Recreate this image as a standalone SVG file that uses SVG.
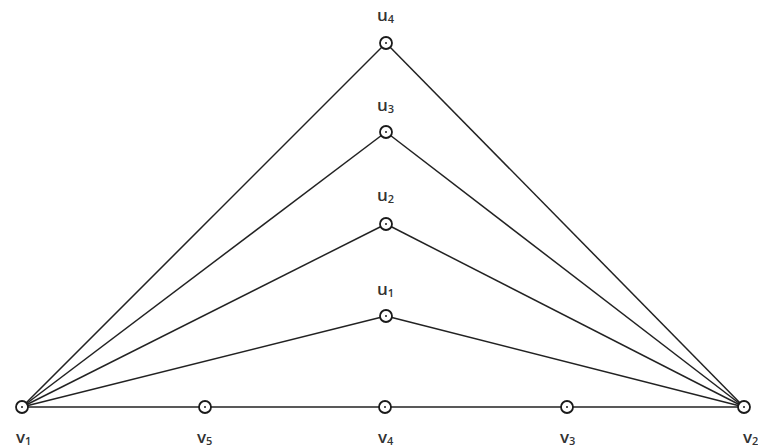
<svg xmlns="http://www.w3.org/2000/svg" width="758" height="448" viewBox="0 0 758 448">
<style>
.e{stroke:#222;stroke-width:1.5;fill:none}
.n{fill:#fff;stroke:#1a1a1a;stroke-width:1.8}
.d{fill:#1a1a1a}
.t{font-family:"Open Sans","Liberation Sans",sans-serif;font-size:17px;font-weight:600;fill:#333}
.s{font-size:11px}
</style>
<rect width="758" height="448" fill="#fff"/>
<g id="edges">
<line class="e" x1="22" y1="407" x2="744" y2="407"/>
<line class="e" x1="22" y1="407" x2="386" y2="43"/>
<line class="e" x1="22" y1="407" x2="386" y2="132"/>
<line class="e" x1="22" y1="407" x2="386" y2="224"/>
<line class="e" x1="22" y1="407" x2="386" y2="316"/>
<line class="e" x1="386" y1="43" x2="744" y2="407"/>
<line class="e" x1="386" y1="132" x2="744" y2="407"/>
<line class="e" x1="386" y1="224" x2="744" y2="407"/>
<line class="e" x1="386" y1="316" x2="744" y2="407"/>
</g>
<g id="u4"><circle class="n" cx="386" cy="43" r="6"/><circle class="d" cx="386" cy="43" r="1"/><text class="t" x="377" y="21">u<tspan class="s" dy="2">4</tspan></text></g>
<g id="u3"><circle class="n" cx="386" cy="132" r="6"/><circle class="d" cx="386" cy="132" r="1"/><text class="t" x="377" y="111">u<tspan class="s" dy="2">3</tspan></text></g>
<g id="u2"><circle class="n" cx="386" cy="224" r="6"/><circle class="d" cx="386" cy="224" r="1"/><text class="t" x="377" y="201">u<tspan class="s" dy="2">2</tspan></text></g>
<g id="u1"><circle class="n" cx="386" cy="316" r="6"/><circle class="d" cx="386" cy="316" r="1"/><text class="t" x="377" y="295">u<tspan class="s" dy="2">1</tspan></text></g>
<g id="v1"><circle class="n" cx="22" cy="407" r="6"/><circle class="d" cx="22" cy="407" r="1"/><text class="t" x="16" y="443">v<tspan class="s" dy="2">1</tspan></text></g>
<g id="v5"><circle class="n" cx="205" cy="407" r="6"/><circle class="d" cx="205" cy="407" r="1"/><text class="t" x="197" y="443">v<tspan class="s" dy="2">5</tspan></text></g>
<g id="v4"><circle class="n" cx="385" cy="407" r="6"/><circle class="d" cx="385" cy="407" r="1"/><text class="t" x="378" y="443">v<tspan class="s" dy="2">4</tspan></text></g>
<g id="v3"><circle class="n" cx="567" cy="407" r="6"/><circle class="d" cx="567" cy="407" r="1"/><text class="t" x="560" y="443">v<tspan class="s" dy="2">3</tspan></text></g>
<g id="v2"><circle class="n" cx="744" cy="407" r="6"/><circle class="d" cx="744" cy="407" r="1"/><text class="t" x="743" y="443">v<tspan class="s" dy="2">2</tspan></text></g>
</svg>
